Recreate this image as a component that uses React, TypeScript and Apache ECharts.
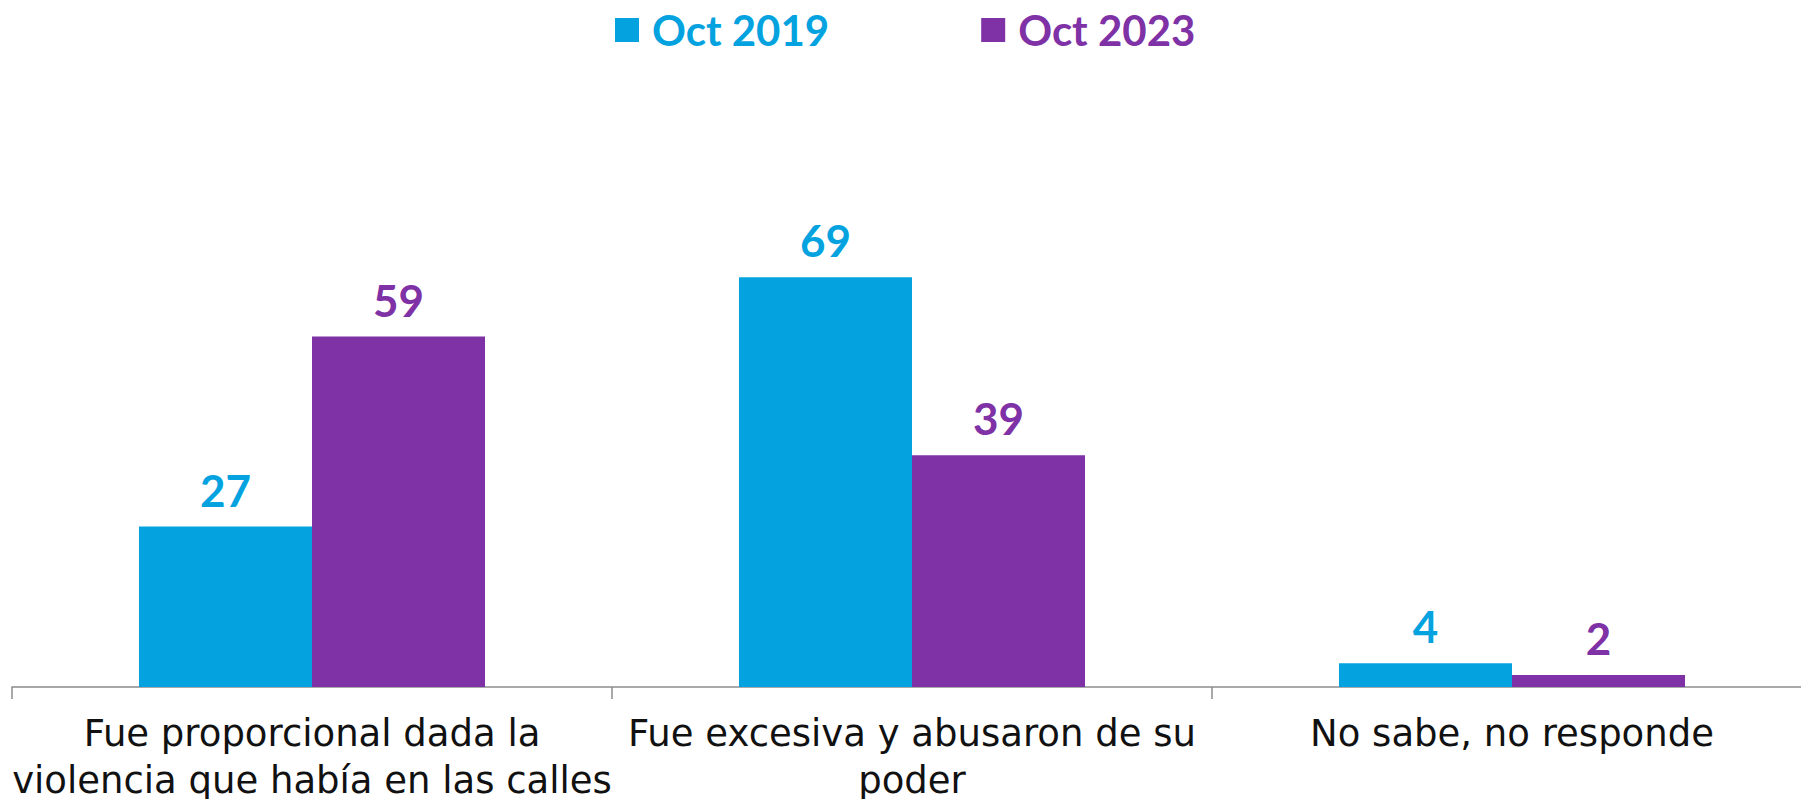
import React, { useEffect, useRef } from "react";
import * as echarts from "echarts";

const categories = [
  "Fue proporcional dada la\nviolencia que había en las calles",
  "Fue excesiva y abusaron de su\npoder",
  "No sabe, no responde",
];
const seriesNames = ["Oct 2019", "Oct 2023"];
const oct2019 = [27, 69, 4];
const oct2023 = [59, 39, 2];
const colors = ["#04A3E0", "#7F31A6"];

export default function App() {
  const ref = useRef<HTMLDivElement>(null);
  useEffect(() => {
    if (!ref.current) return;
    const chart = echarts.init(ref.current, null, { renderer: "svg" });
    const labelFont = "Lato, 'DejaVu Sans', sans-serif";
    const mkSeries = (name: string, data: number[], color: string) => ({
      name,
      type: "bar",
      data,
      barWidth: 173,
      barGap: "0%",
      itemStyle: { color },
      label: {
        show: true,
        position: "top",
        distance: 15,
        color,
        fontFamily: labelFont,
        fontWeight: "bold",
        fontSize: 44,
      },
    });
    chart.setOption({
      animation: false,
      backgroundColor: "#ffffff",
      legend: {
        data: [
          { name: seriesNames[0], textStyle: { color: colors[0] } },
          { name: seriesNames[1], textStyle: { color: colors[1] } },
        ],
        left: 615,
        top: 9,
        padding: 0,
        itemWidth: 24,
        itemHeight: 24,
        itemGap: 152,
        icon: "rect",
        textStyle: {
          fontFamily: labelFont,
          fontWeight: "bold",
          fontSize: 42,
          lineHeight: 42,
          padding: [0, 0, 0, 8],
        },
      },
      grid: {
        left: 12,
        width: 1800,
        top: 93,
        bottom: 112,
        containLabel: false,
        outerBoundsMode: "none",
      },
      xAxis: {
        type: "category",
        data: categories,
        axisLine: { show: true, lineStyle: { color: "#8c8c8c", width: 1.5 } },
        axisTick: { show: true, alignWithLabel: false, length: 12, lineStyle: { color: "#8c8c8c", width: 1.5 } },
        axisLabel: {
          interval: 0,
          margin: 23,
          color: "#111111",
          fontFamily: "'DejaVu Sans', sans-serif",
          fontSize: 37,
          lineHeight: 47,
        },
      },
      yAxis: {
        type: "value",
        min: 0,
        max: 100,
        show: false,
        splitLine: { show: false },
      },
      series: [
        mkSeries(seriesNames[0], oct2019, colors[0]),
        mkSeries(seriesNames[1], oct2023, colors[1]),
      ],
    });
    return () => chart.dispose();
  }, []);
  return (
    <div
      style={{ position: "fixed", left: 0, top: 0, width: 1801, height: 799, overflow: "hidden", background: "#fff" }}
    >
      <div ref={ref} style={{ width: 1801, height: 799, overflow: "hidden" }} />
    </div>
  );
}
